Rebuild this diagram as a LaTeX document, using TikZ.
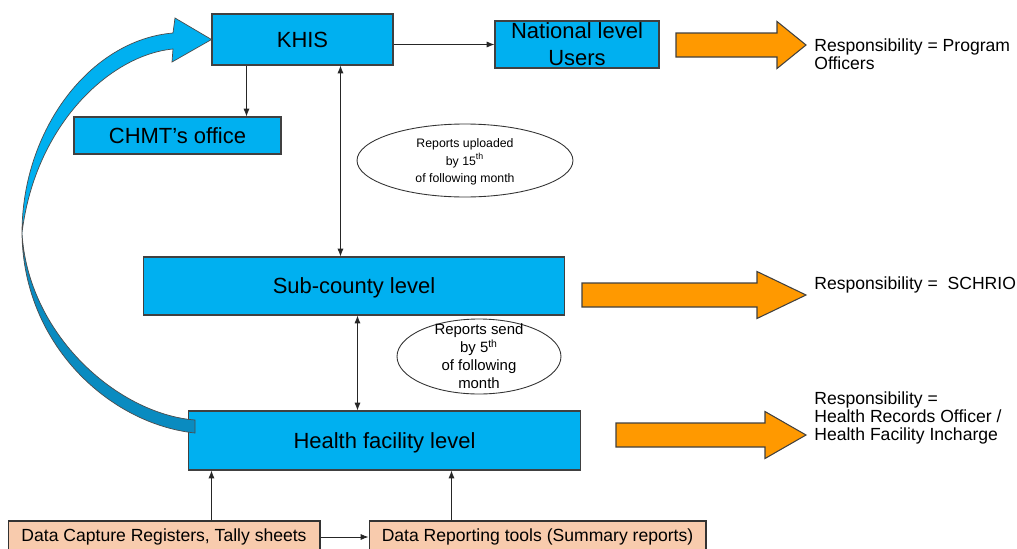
\documentclass[tikz,border=0pt]{standalone}
\usepackage{fontspec}
\setmainfont{Liberation Sans}
\usetikzlibrary{shapes, arrows.meta}

\definecolor{khisblue}{HTML}{00B0F0}
\definecolor{ribbonblue}{HTML}{0A8BC0}
\definecolor{orangefill}{HTML}{FF9900}
\definecolor{toolpeach}{HTML}{F8CBAD}

% orange block arrow: left x, head base x, tip x, middle y
\newcommand{\resparrow}[4]{%
  \filldraw[draw=black!75, fill=orangefill, line width=0.6pt]
    (#1,#4-12) -- (#2,#4-12) -- (#2,#4-23.5) -- (#3,#4) -- (#2,#4+23.5) -- (#2,#4+12) -- (#1,#4+12) -- cycle;}

\begin{document}
\begin{tikzpicture}[x=0.02cm, y=-0.02cm,
	box/.style={draw=black!75, fill=khisblue, line width=0.6pt, inner sep=0pt,
		align=center, font=\fontsize{12.5}{15.4}\selectfont},
	level/.style={box, text depth=0pt},
	tool/.style={draw=black!80, fill=toolpeach, line width=0.6pt, inner sep=0pt,
		minimum height=0.64cm, font=\fontsize{10}{12}\selectfont},
	note/.style={draw=black!80, ellipse, fill=white, line width=0.5pt},
	resp/.style={anchor=west, inner sep=0pt, align=left, font=\fontsize{10}{10.5}\selectfont},
	flow/.style={-{Latex[length=4.5pt,width=3.5pt]}, black!85, line width=0.5pt},
	twoway/.style={{Latex[length=4.5pt,width=3.5pt]}-{Latex[length=4.5pt,width=3.5pt]}, black!85, line width=0.5pt}]
	\useasboundingbox (0,0) rectangle (1017,548);

	% levels
	\node[level, minimum width=3.62cm, minimum height=1.02cm] (khis) at (302.5,39.5) {KHIS};
	\node[box, minimum width=3.28cm, minimum height=0.94cm] (natl) at (577,44.5) {National level\\Users};
	\node[level, minimum width=4.14cm, minimum height=0.74cm] (chmt) at (177.5,135.5) {CHMT’s office};
	\node[level, minimum width=8.44cm, minimum height=1.16cm] (sub) at (354,286) {Sub-county level};
	\node[level, minimum width=7.86cm, minimum height=1.18cm] (hf) at (384.5,440.5) {Health facility level};

	% tools
	\node[tool, minimum width=6.24cm] (capture) at (164,537) {Data Capture Registers, Tally sheets};
	\node[tool, minimum width=6.74cm] (report) at (537.5,537) {Data Reporting tools (Summary reports)};

	% deadlines
	\node[note, minimum width=4.32cm, minimum height=1.46cm] (upnote) at (465,160.5) {};
	\node[align=center, font=\fontsize{7}{10}\selectfont] at ([yshift=-0.03cm]upnote) {Reports uploaded\\by 15\textsuperscript{th}\\of following month};
	\node[note, minimum width=3.28cm, minimum height=1.5cm] (sendnote) at (479,356.5) {};
	\node[align=center, font=\fontsize{8.5}{10.3}\selectfont] at (sendnote) {Reports send\\by 5\textsuperscript{th}\\of following\\month};

	% connectors
	\draw[flow] (khis.east |- natl) -- (natl.west);
	\draw[flow] ([xshift=0.7cm]khis.south west) -- ([xshift=0.7cm]khis.south west |- chmt.north);
	\draw[twoway] ([xshift=2.58cm]khis.south west) -- ([xshift=2.58cm]khis.south west |- sub.north);
	\draw[twoway] ([xshift=4.3cm]sub.south west) -- ([xshift=4.3cm]sub.south west |- hf.north);
	\draw[flow] ([xshift=4.08cm]capture.north west) -- ([xshift=4.08cm]capture.north west |- hf.south);
	\draw[flow] ([xshift=1.66cm]report.north west) -- ([xshift=1.66cm]report.north west |- hf.south);
	\draw[flow] (capture.east) -- (report.west);

	% curved arrow back to KHIS
	\filldraw[draw=black!70, fill=khisblue, line width=0.4pt]
		(22,233) .. controls (35,125) and (110,55) .. (173,49) -- (172,62) -- (khis.west)
		-- (175,18) -- (173,33) .. controls (90,40) and (22,130) .. (22,233) -- cycle;
	\filldraw[draw=black!70, fill=ribbonblue, line width=0.4pt]
		(22,233) .. controls (23,345) and (110,424) .. (195,433) -- (195,420)
		.. controls (118,414) and (28,335) .. (22,233) -- cycle;

	% responsibilities
	\resparrow{676}{777}{806}{45}
	\resparrow{582}{757}{806}{295}
	\resparrow{616}{765}{806}{435}
	\node[resp] (respnat) at (814,54) {Responsibility = Program\\Officers};
	\node[resp] (respsub) at (814,285) {Responsibility = \ SCHRIO};
	\node[resp] (resphf) at (814,418) {Responsibility =\\Health Records Officer /\\Health Facility Incharge};
\end{tikzpicture}
\end{document}
